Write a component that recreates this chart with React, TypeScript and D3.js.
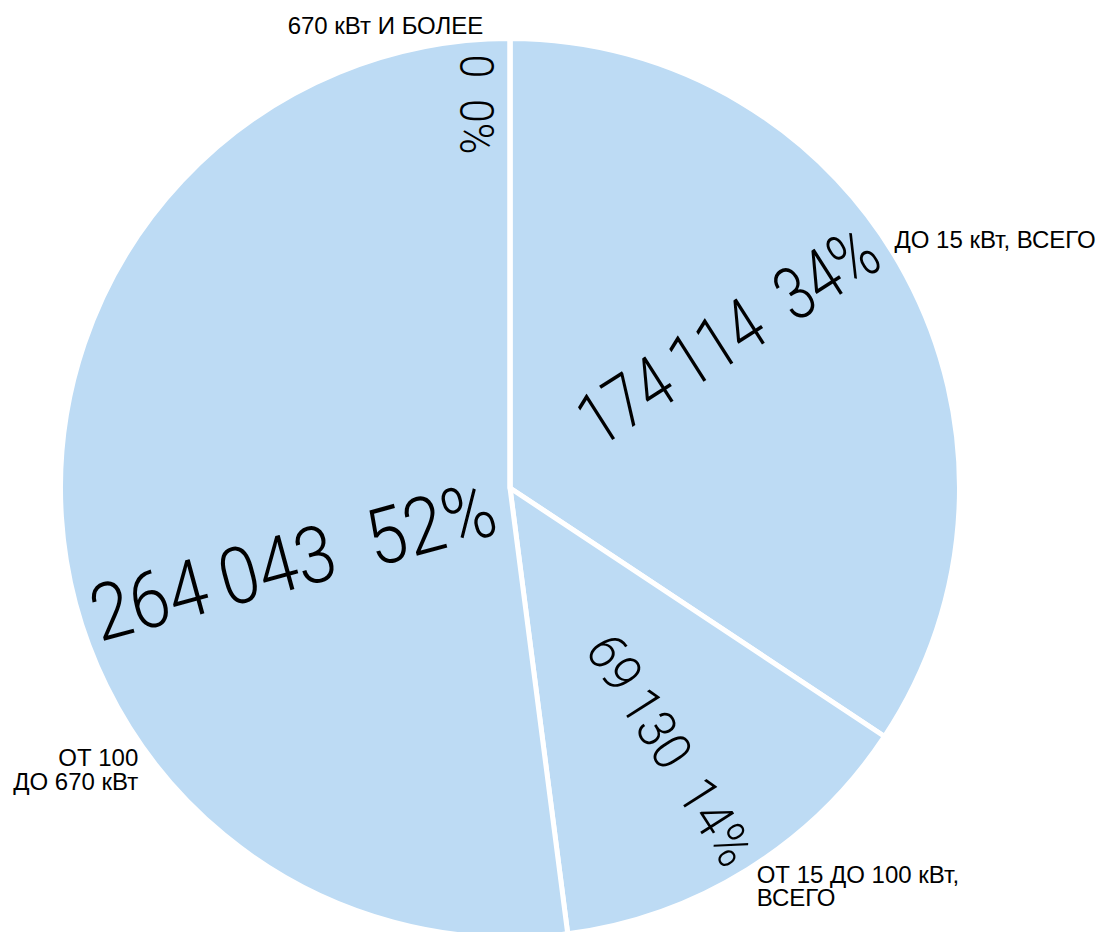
import React from "react";
import * as d3 from "d3";

const categories = ["ДО 15 кВт, ВСЕГО", "ОТ 15 ДО 100 кВт, ВСЕГО", "ОТ 100 ДО 670 кВт", "670 кВт И БОЛЕЕ"];
const categoryLines = [["ДО 15 кВт, ВСЕГО"], ["ОТ 15 ДО 100 кВт,", "ВСЕГО"], ["ОТ 100", "ДО 670 кВт"], ["670 кВт И БОЛЕЕ"]];
const values = [174114, 69130, 264043, 0];

// layout (degrees / px), not data
const innerPosShift = [-6.7, 0.5, -15, -5];
const innerRotShift = [-4.3, -0.6, -11.5, 0];
const innerRadius = [266, 307, 229, 385];
const innerFont = [74, 54, 79, 48];
const innerLength = [340, 262, 416, 100];
const outerAngleShift = [-4.7, 0.1, -33.4, -3.3];
const outerRadius = [458, 468, 466, 464];

const W = 1109, H = 932;
const cx = 510, cy = 488, R = 449.5;

function fmt(v: number) {
  return d3.format(",")(v).replace(/,/g, "\u2009");
}

export default function App() {
  const total = d3.sum(values);
  const pie = d3.pie<number>().sort(null).value((d) => d)(values);
  const arc = d3.arc<d3.PieArcDatum<number>>().innerRadius(0).outerRadius(R);
  const deg = (r: number) => (r * 180) / Math.PI;
  const pt = (thetaDeg: number, r: number) => {
    const t = (thetaDeg * Math.PI) / 180;
    return [cx + r * Math.sin(t), cy - r * Math.cos(t)];
  };
  return (
    <svg width={W} height={H} style={{ position: "absolute", left: 0, top: 0 }}>
      <g transform={`translate(${cx},${cy})`}>
        {pie.map((p, i) => (
          <path key={i} d={arc(p) || ""} fill="#bddbf4" stroke="#ffffff" strokeWidth={5} strokeLinejoin="round" />
        ))}
      </g>
      {pie.map((p, i) => {
        const mid = deg((p.startAngle + p.endAngle) / 2);
        const thP = mid + innerPosShift[i];
        const thR = mid + innerRotShift[i];
        const [x, y] = pt(thP, innerRadius[i]);
        const rot = thR < 180 ? thR - 90 : thR - 270;
        const pct = Math.round((values[i] / total) * 100);
        return (
          <text
            key={"in" + i}
            transform={`translate(${x},${y}) rotate(${rot})`}
            x={-innerLength[i] / 2}
            textLength={innerLength[i]}
            lengthAdjust="spacingAndGlyphs"
            dominantBaseline="central"
            fontFamily="Roboto"
            fontWeight={300}
            fontSize={innerFont[i]}
            fill="#000"
          >
            {fmt(values[i]) + "\u00a0\u00a0" + pct + "%"}
          </text>
        );
      })}
      {pie.map((p, i) => {
        const mid = deg((p.startAngle + p.endAngle) / 2);
        const th = mid + outerAngleShift[i];
        const [x, y] = pt(th, outerRadius[i]);
        const lines = categoryLines[i];
        const lh = 23.5;
        const anchor = th % 360 < 180 ? "start" : "end";
        return (
          <text
            key={"out" + i}
            x={x}
            y={y - ((lines.length - 1) * lh) / 2}
            textAnchor={anchor}
            dominantBaseline="central"
            fontFamily="Liberation Sans, Arial, sans-serif"
            fontSize={24}
            fill="#000"
          >
            {lines.map((l, j) => (
              <tspan key={j} x={x} dy={j === 0 ? 0 : lh}>
                {l}
              </tspan>
            ))}
            <title>{categories[i]}</title>
          </text>
        );
      })}
    </svg>
  );
}
